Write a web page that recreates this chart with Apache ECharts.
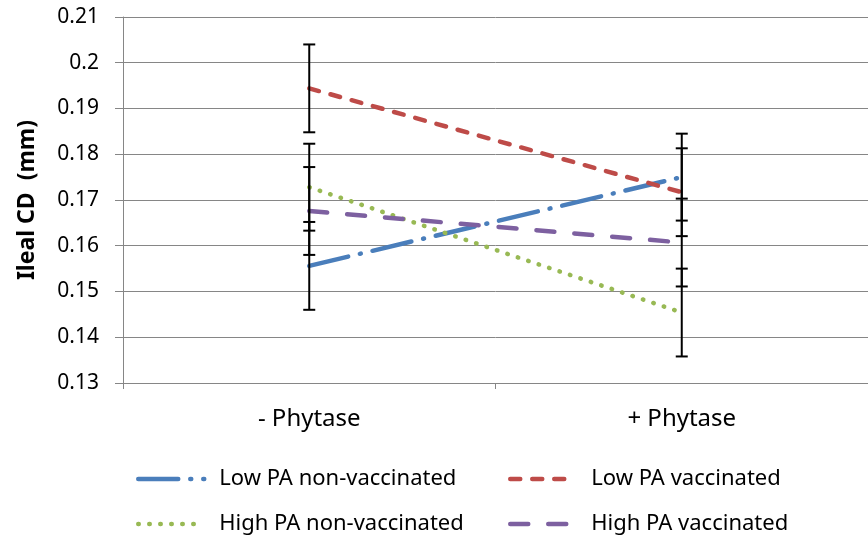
<!DOCTYPE html>
<html>
<head>
<meta charset="utf-8">
<script src="https://cdn.jsdelivr.net/npm/echarts@6/dist/echarts.min.js"></script>
<style>
html,body{margin:0;padding:0;background:#fff;}
#chart{width:868px;height:542px;}
</style>
</head>
<body>
<div id="chart"></div>
<script>
const categories = ['- Phytase', '+ Phytase'];
const seriesNames = ['Low PA non-vaccinated', 'Low PA vaccinated', 'High PA non-vaccinated', 'High PA vaccinated'];
const lowNonVac = [0.1556, 0.1750];
const lowVac = [0.1944, 0.1717];
const highNonVac = [0.1728, 0.1454];
const highVac = [0.1676, 0.1607];
const lowNonVacErr = [0.0096, 0.0095];
const lowVacErr = [0.0096, 0.0096];
const highNonVacErr = [0.0095, 0.0096];
const highVacErr = [0.0096, 0.0096];
const yMin = 0.13, yMax = 0.21, yStep = 0.01;

const FONT = 'Noto Sans';
const colors = ['#4A7EBB', '#BE4B48', '#98B954', '#7D60A0'];
const dashes = [[40, 12, 1, 12], [10, 12], [0.5, 10.5], [18, 20]];
const values = [lowNonVac, lowVac, highNonVac, highVac];
const errs = [lowNonVacErr, lowVacErr, highNonVacErr, highVacErr];

const lineSeries = values.map((v, i) => ({
  name: seriesNames[i],
  type: 'line',
  data: v,
  symbol: 'none',
  z: 2,
  lineStyle: { color: colors[i], width: 4.5, type: dashes[i], cap: 'round' },
  itemStyle: { color: colors[i] }
}));

const errData = [];
values.forEach((v, i) => v.forEach((val, j) => errData.push([j, val, errs[i][j]])));

const errSeries = {
  type: 'custom',
  z: 5,
  silent: true,
  data: errData,
  renderItem: function (params, api) {
    const x = api.value(0), y = api.value(1), e = api.value(2);
    const hi = api.coord([x, y + e]);
    const lo = api.coord([x, y - e]);
    const w = 6;
    const st = { stroke: '#000', lineWidth: 2 };
    return {
      type: 'group',
      children: [
        { type: 'line', shape: { x1: hi[0], y1: hi[1], x2: lo[0], y2: lo[1] }, style: st },
        { type: 'line', shape: { x1: hi[0] - w, y1: hi[1], x2: hi[0] + w, y2: hi[1] }, style: st },
        { type: 'line', shape: { x1: lo[0] - w, y1: lo[1], x2: lo[0] + w, y2: lo[1] }, style: st }
      ]
    };
  }
};

const legendCommon = {
  orient: 'vertical',
  top: 463,
  itemGap: 23,
  itemWidth: 66,
  itemHeight: 14,
  itemStyle: { opacity: 0 },
  lineStyle: { width: 4.5, cap: 'round' },
  textStyle: { fontFamily: FONT, fontSize: 22, color: '#000', padding: [0, 0, 0, 10] }
};

const chart = echarts.init(document.getElementById('chart'), null, { renderer: 'canvas' });
chart.setOption({
  animation: false,
  backgroundColor: '#fff',
  grid: { left: 123, top: 17, right: -7, bottom: 159, containLabel: false },
  legend: [
    Object.assign({ left: 131, data: [seriesNames[0], seriesNames[2]] }, legendCommon),
    Object.assign({ left: 503, data: [seriesNames[1], seriesNames[3]] }, legendCommon)
  ],
  xAxis: {
    type: 'category',
    data: categories,
    axisLine: { lineStyle: { color: '#868686', width: 1 } },
    axisTick: { show: true, length: 6, lineStyle: { color: '#868686' } },
    axisLabel: { margin: 24, fontFamily: FONT, fontSize: 24, color: '#000' }
  },
  yAxis: {
    type: 'value',
    min: yMin,
    max: yMax,
    interval: yStep,
    name: 'Ileal CD  (mm)',
    nameLocation: 'middle',
    nameGap: 84,
    nameTextStyle: { fontFamily: FONT, fontSize: 23, fontWeight: 'bold', color: '#000' },
    axisLine: { show: true, lineStyle: { color: '#868686', width: 1 } },
    axisTick: { show: true, length: 8, lineStyle: { color: '#868686' } },
    splitLine: { show: true, lineStyle: { color: '#868686', width: 1 } },
    axisLabel: { margin: 24, fontFamily: FONT, fontSize: 21, color: '#000' }
  },
  series: lineSeries.concat([errSeries])
});
</script>
</body>
</html>
